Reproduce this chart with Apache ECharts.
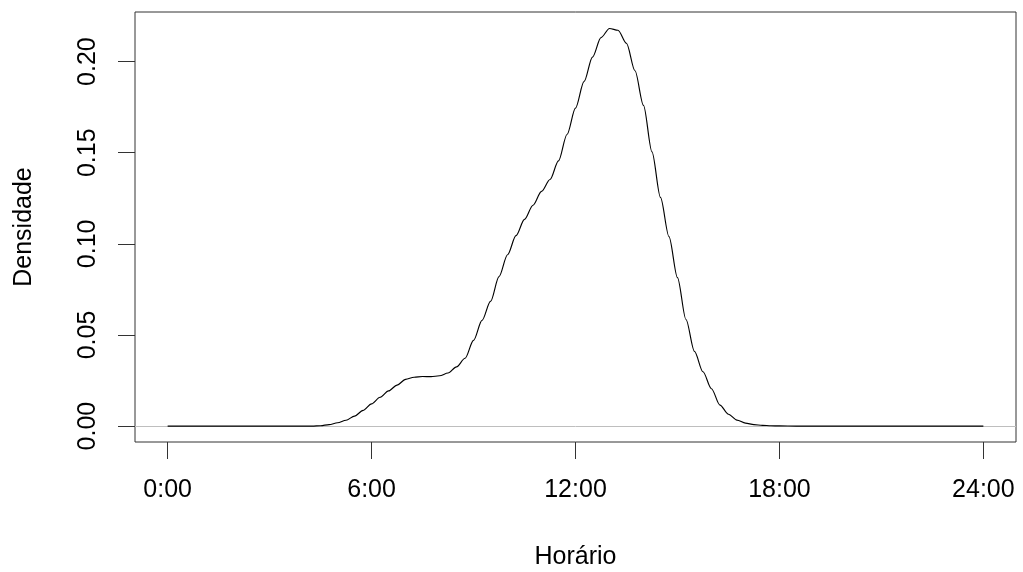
<!DOCTYPE html>
<html>
<head>
<meta charset="utf-8">
<script src="https://cdn.jsdelivr.net/npm/echarts@6/dist/echarts.min.js"></script>
<style>
html,body{margin:0;padding:0;background:#fff;}
#chart{width:1023px;height:572px;}
</style>
</head>
<body>
<div id="chart"></div>
<script>
const hours = [0, 1, 2, 3, 4, 4.25, 4.5, 4.75, 5, 5.25, 5.5, 5.75, 6, 6.25, 6.5, 6.75, 7, 7.25, 7.5, 7.75,
  8, 8.25, 8.5, 8.75, 9, 9.25, 9.5, 9.75, 10, 10.25, 10.5, 10.75, 11, 11.25, 11.5, 11.75,
  12, 12.25, 12.5, 12.75, 13, 13.25, 13.5, 13.75, 14, 14.25, 14.5, 14.75, 15, 15.25, 15.5, 15.75,
  16, 16.25, 16.5, 16.75, 17, 17.25, 17.5, 17.75, 18, 18.5, 19, 20, 21, 22, 23, 24];
const density = [0, 0, 0, 0, 0, 0, 0.0002, 0.0008, 0.0018, 0.0032, 0.0055, 0.0086, 0.0122, 0.0158, 0.0193, 0.0225, 0.0256, 0.0268, 0.0272, 0.0271,
  0.0276, 0.0291, 0.0325, 0.0372, 0.0470, 0.0580, 0.0684, 0.0820, 0.0940, 0.1045, 0.1134, 0.1212, 0.1288, 0.1353, 0.1455, 0.1600,
  0.1745, 0.1890, 0.2025, 0.2132, 0.2182, 0.2172, 0.2100, 0.1950, 0.1760, 0.1505, 0.1255, 0.1040, 0.0815, 0.0585, 0.0410, 0.0298,
  0.0205, 0.0115, 0.0065, 0.0033, 0.0016, 0.0008, 0.0004, 0.0002, 0.0001, 0, 0, 0, 0, 0, 0, 0];
const xTicks = [0, 6, 12, 18, 24];
const xTickLabels = ['0:00', '6:00', '12:00', '18:00', '24:00'];
const yTicks = [0, 0.05, 0.10, 0.15, 0.20];
const yTickLabels = ['0.00', '0.05', '0.10', '0.15', '0.20'];

const xSpan = 24, yPeak = 0.2185;
const font = 'Liberation Sans, Arial, sans-serif';
const chart = echarts.init(document.getElementById('chart'), null, {renderer: 'canvas'});
chart.setOption({
  animation: false,
  backgroundColor: '#fff',
  grid: {left: 135, right: 7, top: 12, bottom: 130, show: true, borderColor: '#333', borderWidth: 1,
    backgroundColor: 'transparent', containLabel: false, outerBoundsMode: 'none'},
  xAxis: {
    type: 'value',
    min: -0.04 * xSpan, max: 1.04 * xSpan,
    name: 'Horário', nameLocation: 'middle', nameGap: 103,
    nameTextStyle: {fontFamily: font, fontSize: 25, color: '#000'},
    axisLine: {show: false, onZero: false},
    splitLine: {show: false},
    axisTick: {show: true, inside: false, length: 17, lineStyle: {color: '#333', width: 1}, customValues: xTicks},
    axisLabel: {show: true, margin: 36, fontFamily: font, fontSize: 25, color: '#000', customValues: xTicks,
      formatter: v => xTickLabels[xTicks.indexOf(v)] ?? ''}
  },
  yAxis: {
    type: 'value',
    min: -0.04 * yPeak, max: 1.04 * yPeak,
    name: 'Densidade', nameLocation: 'middle', nameGap: 98, nameRotate: 90,
    nameTextStyle: {fontFamily: font, fontSize: 25, color: '#000'},
    axisLine: {show: false, onZero: false},
    splitLine: {show: false},
    axisTick: {show: true, inside: false, length: 17, lineStyle: {color: '#333', width: 1}, customValues: yTicks},
    axisLabel: {show: true, margin: 34, rotate: 90, fontFamily: font, fontSize: 25, color: '#000', customValues: yTicks,
      formatter: v => { const i = yTicks.findIndex(t => Math.abs(t - v) < 1e-9); return i >= 0 ? yTickLabels[i] : ''; }}
  },
  series: [{
    type: 'line',
    data: hours.map((h, i) => [h, density[i]]),
    showSymbol: false,
    smooth: 0.3,
    smoothMonotone: 'x',
    lineStyle: {color: '#000', width: 1.15},
    z: 3,
    markLine: {
      silent: true, symbol: ['none', 'none'], label: {show: false},
      lineStyle: {color: '#bebebe', width: 1, type: 'solid'},
      data: [{yAxis: 0}],
      z: 2
    }
  }]
});
</script>
</body>
</html>
